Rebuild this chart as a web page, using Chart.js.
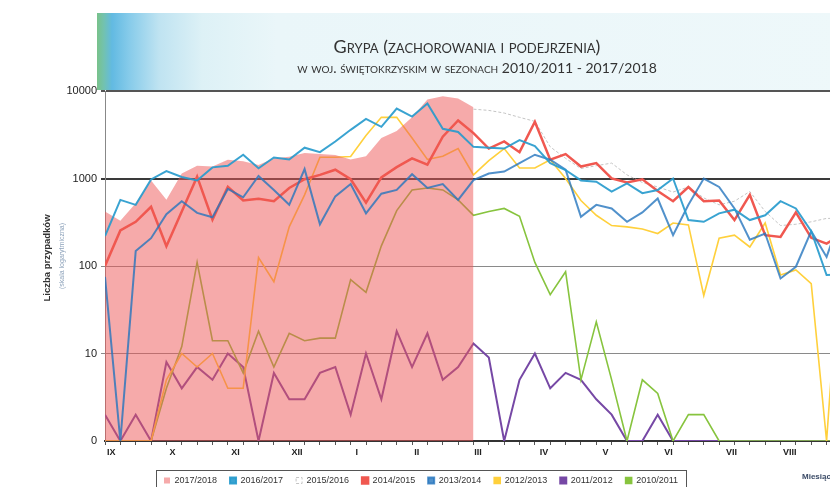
<!DOCTYPE html>
<html lang="pl">
<head>
<meta charset="utf-8">
<title>Grypa – woj. świętokrzyskie</title>
<script src="https://cdn.jsdelivr.net/npm/chart.js@4.4.1/dist/chart.umd.min.js"></script>
<style>
  html, body { margin:0; padding:0; width:830px; height:487px; overflow:hidden; background:#fff; }
  #banner { position:absolute; left:97px; top:13px; width:760px; height:77px;
    background: linear-gradient(90deg, #79c28a 0px, #72c2b0 7px, #62bae2 15px, #86cbea 32px, #bfe3f1 62px, #ddf1f6 105px, #eaf6f9 180px, #eef8fa 760px); }
  .txt { position:absolute; white-space:nowrap; }
  #t1 { left:467px; top:35px; transform:translateX(-50%); font: 18px Lato, sans-serif; font-variant: small-caps; color:#333; }
  #t2 { left:477px; top:59px; transform:translateX(-50%); font: 14px Lato, sans-serif; font-variant: small-caps; color:#333; }
  #wrap { position:absolute; left:0; top:0; width:900px; height:500px; }
  #yt1 { left:46px; top:258px; transform: translate(-50%,-50%) rotate(-90deg); font: bold 9.5px 'Liberation Sans', sans-serif; color:#333; }
  #yt2 { left:61px; top:256px; transform: translate(-50%,-50%) rotate(-90deg); font: 7px 'Liberation Sans', sans-serif; color:#8ea3bb; }
  #mies { left:802px; top:472px; font: bold 8px 'Liberation Sans', sans-serif; color:#3a4a66; }
</style>
</head>
<body>
<div id="banner"></div>
<div id="wrap"><canvas id="c" width="900" height="500"></canvas></div>
<div class="txt" id="t1">Grypa (zachorowania i podejrzenia)</div>
<div class="txt" id="t2">w woj. świętokrzyskim w sezonach 2010/2011 - 2017/2018</div>
<div class="txt" id="yt1">Liczba przypadków</div>
<div class="txt" id="yt2">(skala logarytmiczna)</div>
<div class="txt" id="mies">Miesiąc</div>
<script>
// ---- categories & tick labels ----
const weekNumbers = [36,37,38,39,40,41,42,43,44,45,46,47,48,49,50,51,52,1,2,3,4,5,6,7,8,9,10,11,12,13,14,15,16,17,18,19,20,21,22,23,24,25,26,27,28,29,30,31,32];
const monthLabels = ['IX','X','XI','XII','I','II','III','IV','V','VI','VII','VIII'];
const monthTickWeeks = [0.4, 4.4, 8.5, 12.5, 16.4, 20.3, 24.3, 28.6, 32.6, 36.7, 40.8, 44.6];
const yTickValues = [1, 10, 100, 1000, 10000];
const yTickLabels = ['0', '10', '100', '1000', '10000'];
const seasonLabels = ['2017/2018','2016/2017','2015/2016','2014/2015','2013/2014','2012/2013','2011/2012','2010/2011'];

// ---- series values (weekly, from week 36) ----
const s2017_2018 = [420,330,520,950,570,1140,1400,1370,1640,1570,1430,1700,1770,1950,1900,1850,1650,1800,2900,3500,5000,8000,8700,8200,6500];
const s2016_2017 = [220,570,500,975,1215,1040,950,1340,1400,1870,1310,1740,1650,2250,2000,2650,3600,4800,3900,6300,5100,7200,3700,3400,2300,2250,2200,2750,2350,1500,1250,950,920,710,880,680,740,1000,335,320,400,440,335,380,550,455,250,79,80];
const s2015_2016 = [null,null,null,null,null,null,null,null,null,null,null,null,null,null,null,null,null,null,null,null,null,null,null,null,6200,6000,5600,5000,4500,2300,1700,1300,1400,1500,1100,900,800,700,800,600,500,550,710,420,290,300,320,350,350];
const s2014_2015 = [100,255,320,475,168,420,1050,338,805,560,585,550,780,980,1100,1260,980,530,1030,1350,1700,1440,3000,4600,3300,2200,2650,2000,4450,1640,1900,1370,1500,1000,900,980,720,550,800,550,560,335,650,225,215,410,210,180,230];
const s2013_2014 = [75,0,148,208,390,550,405,360,760,610,1070,740,500,1280,300,625,865,400,670,740,1120,780,865,570,960,1140,1200,1500,1870,1640,1260,365,500,455,320,410,590,225,500,1000,800,455,200,235,72,98,250,127,400];
const s2012_2013 = [0,0,0,0,5,10,7,10,4,4,125,66,280,650,1750,1750,1780,3100,5000,5000,2900,1650,1800,2200,1100,1600,2200,1320,1320,1640,1000,560,380,290,280,265,235,310,295,46,208,225,165,310,79,90,63,0,300];
const s2011_2012 = [2,0,2,0,8,4,7,5,10,7,0,6,3,3,6,7,2,10,3,18,7,17,5,7,13,9,0,5,10,4,6,5,3,2,0,0,2,0,0,0,0,0,0,0,0,0,0,0,0];
const s2010_2011 = [0,0,0,0,4,12,110,14,14,6,18,7,17,14,15,15,70,50,170,430,740,780,740,570,380,420,455,370,110,47,86,5,23,5,0,5,3.5,0,2,2,0,0,0,0,0,0,0,0,0];

const AXIS_FLOOR = 1; // the "0" line of the logarithmic axis
const LEGEND_CENTER_X = 421;
const toPoints = arr => arr.map((v, i) => ({ x: i, y: v === null ? null : (v === 0 ? AXIS_FLOOR : v) }));

function ds(idx, data, color, extra) {
  return Object.assign({
    label: seasonLabels[idx], data: toPoints(data),
    borderColor: color, backgroundColor: color, borderWidth: 2,
    pointRadius: 0, pointHoverRadius: 0, tension: 0, fill: false
  }, extra);
}

const legendShift = {
  id: 'legendShift',
  afterUpdate(chart) {
    const lg = chart.legend;
    if (!lg || !lg.legendHitBoxes || !lg.legendHitBoxes.length) return;
    const hb = lg.legendHitBoxes;
    const l = Math.min(...hb.map(h => h.left));
    const r = Math.max(...hb.map(h => h.left + h.width));
    const dx = Math.round(LEGEND_CENTER_X - (l + r) / 2);
    lg.left += dx; lg.right += dx;
    hb.forEach(h => { h.left += dx; });
  },
  afterDraw(chart) {
    const lg = chart.legend;
    if (!lg || !lg.legendHitBoxes || !lg.legendHitBoxes.length) return;
    const hb = lg.legendHitBoxes;
    const l = Math.min(...hb.map(h => h.left));
    const r = Math.max(...hb.map(h => h.left + h.width));
    const t = Math.min(...hb.map(h => h.top));
    const b = Math.max(...hb.map(h => h.top + h.height));
    const ctx = chart.ctx;
    ctx.save();
    ctx.strokeStyle = '#555';
    ctx.lineWidth = 1;
    ctx.strokeRect(Math.round(l - 8) + 0.5, Math.round(t - 6) + 0.5, Math.round(r - l + 16), Math.round(b - t + 12));
    ctx.restore();
  }
};

Chart.defaults.font.family = "'Liberation Sans', Arial, sans-serif";

new Chart(document.getElementById('c'), {
  type: 'line',
  data: {
    datasets: [
      ds(0, s2017_2018, 'rgba(238,85,85,0.5)', { fill: 'start', borderWidth: 0, borderColor: 'rgba(0,0,0,0)', order: 3 }),
      ds(1, s2016_2017, 'rgba(40,155,205,0.92)', { order: 0 }),
      ds(2, s2015_2016, '#c4c4c4', { borderDash: [3, 2], borderWidth: 1, backgroundColor: '#ffffff', order: 4 }),
      ds(3, s2014_2015, 'rgb(240,88,80)', { borderWidth: 2.5, order: 2 }),
      ds(4, s2013_2014, 'rgba(38,118,190,0.8)', { order: 1 }),
      ds(5, s2012_2013, 'rgb(255,208,60)', { borderWidth: 1.6, order: 5 }),
      ds(6, s2011_2012, 'rgb(118,72,165)', { order: 7 }),
      ds(7, s2010_2011, 'rgb(135,196,62)', { borderWidth: 1.6, order: 6 })
    ]
  },
  options: {
    responsive: false,
    animation: false,
    devicePixelRatio: 1,
    layout: { padding: { top: 91, left: 0, right: 12, bottom: 5 } },
    plugins: {
      legend: {
        position: 'bottom',
        labels: {
          boxWidth: 6, boxHeight: 6, padding: 13,
          font: { size: 9 }, color: '#333',
          sort: (a, b) => a.datasetIndex - b.datasetIndex
        }
      },
      tooltip: { enabled: false },
      title: { display: false }
    },
    scales: {
      x: {
        type: 'linear', min: 0, max: 51,
        afterBuildTicks: (s) => {
          const t = weekNumbers.map((w, i) => ({ value: i }));
          monthTickWeeks.forEach((v, i) => t.push({ value: v, name: monthLabels[i], month: true }));
          s.ticks = t;
        },
        afterFit: (s) => { s.height = 22; },
        ticks: {
          autoSkip: false, maxRotation: 0, minRotation: 0, padding: 2,
          font: { size: 9, weight: 'bold' }, color: '#222',
          callback: (v, i, ticks) => ticks[i].month ? ticks[i].name : ''
        },
        grid: {
          drawOnChartArea: false, drawTicks: true, tickLength: 4,
          tickColor: (c) => (c.tick && c.tick.month) ? 'rgba(0,0,0,0)' : '#555',
          color: '#555'
        },
        border: { display: true, color: '#333', width: 2 }
      },
      y: {
        type: 'logarithmic', min: 1, max: 10000,
        afterBuildTicks: (s) => { s.ticks = yTickValues.map(v => ({ value: v })); },
        afterFit: (s) => { s.width = 105; },
        ticks: {
          padding: 4, font: { size: 11 }, color: '#222',
          callback: (v, i) => yTickLabels[i]
        },
        grid: {
          tickLength: 4,
          color: (c) => {
            const v = c.tick ? c.tick.value : 0;
            if (v === 1) return 'rgba(0,0,0,0)';
            if (v === 1000) return '#3a3a3a';
            if (v === 10000) return '#555';
            return '#8a8a8a';
          },
          lineWidth: (c) => {
            const v = c.tick ? c.tick.value : 0;
            return (v === 1000 || v === 10000) ? 2 : 1;
          }
        },
        border: { display: true, color: '#888', width: 1 }
      }
    }
  },
  plugins: [legendShift]
});
</script>
</body>
</html>
